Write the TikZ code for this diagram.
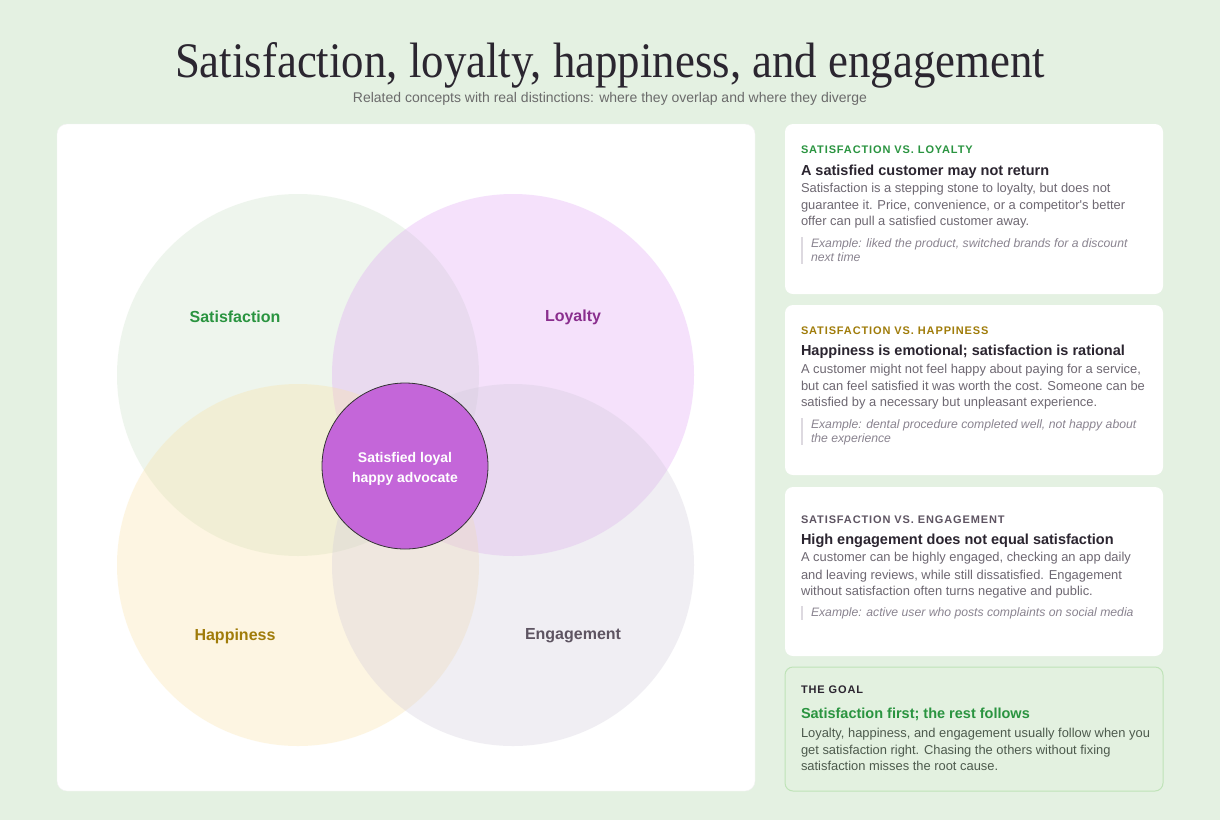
\documentclass[tikz,border=0pt]{standalone}
\usepackage{fontspec}
\usepackage{graphicx}
\newfontfamily\sans{Liberation Sans}
\newfontfamily\serifttl{Liberation Serif}
\definecolor{bgc}{HTML}{E4F1E2}
\definecolor{titlec}{HTML}{2B2630}
\definecolor{subc}{HTML}{6B6B6B}
\definecolor{satc}{HTML}{CAE1C6}
\definecolor{loyc}{HTML}{DE9EF5}
\definecolor{hapc}{HTML}{FBE1A0}
\definecolor{engc}{HTML}{CFC9D9}
\definecolor{corec}{HTML}{C466D9}
\definecolor{greenc}{HTML}{2A9440}
\definecolor{purplec}{HTML}{8A2E8E}
\definecolor{goldc}{HTML}{A07C0A}
\definecolor{grayc}{HTML}{5E5462}
\definecolor{darkc}{HTML}{2B2530}
\definecolor{bodyc}{HTML}{6E6872}
\definecolor{exc}{HTML}{8A8490}
\definecolor{barc}{HTML}{DDD9E0}
\definecolor{goalfill}{HTML}{E3F1E0}
\definecolor{goalline}{HTML}{BFE3B8}
\definecolor{goalbody}{HTML}{4D5A4D}
\tikzset{
  card/.style={rounded corners=8pt, fill=white, minimum width=378pt, anchor=north west},
  lbl/.style={anchor=base west, font=\sans\bfseries\fontsize{11}{13}\selectfont\addfontfeatures{LetterSpace=8}},
  ttl/.style={anchor=base west, text=darkc, font=\sans\bfseries\fontsize{14.5}{17}\selectfont},
  bdy/.style={anchor=base west, text=bodyc, font=\sans\fontsize{12.9}{15}\selectfont},
  exm/.style={anchor=base west, text=exc, font=\sans\itshape\fontsize{12.2}{14}\selectfont},
  vlabel/.style={font=\sans\bfseries\fontsize{16}{19}\selectfont},
  exbar/.style={draw=barc, line width=1.5pt}
}
\begin{document}
\begin{tikzpicture}[x=1pt,y=-1pt, every node/.style={inner sep=0pt, outer sep=0pt}]
\useasboundingbox (0,0) rectangle (1220,820);
\fill[bgc] (0,0) rectangle (1220,820);
% title
\node[anchor=base, text=titlec, font=\serifttl\fontsize{48}{50}\selectfont] (title) at (610,77) {\resizebox{870pt}{35pt}{Satisfaction, loyalty, happiness, and engagement}};
\node[anchor=base, text=subc, font=\sans\fontsize{14}{16}\selectfont] (subtitle) at (610,102) {Related concepts with real distinctions: where they overlap and where they diverge};
% venn panel
\node[rounded corners=10pt, fill=white, draw=white!90!gray, line width=0.4pt, minimum width=698pt, minimum height=667pt, anchor=north west] (panel) at (57,124) {};
\fill[satc, fill opacity=0.3] (298,375) circle[radius=181pt];
\fill[loyc, fill opacity=0.3] (513,375) circle[radius=181pt];
\fill[hapc, fill opacity=0.3] (298,565) circle[radius=181pt];
\fill[engc, fill opacity=0.3] (513,565) circle[radius=181pt];
\node[vlabel, text=greenc] (lsat) at (235,317) {Satisfaction};
\node[vlabel, text=purplec] (lloy) at (573,317) {Loyalty};
\node[vlabel, text=goldc] (lhap) at (235,636) {Happiness};
\node[vlabel, text=grayc] (leng) at (573,636) {Engagement};
\node[circle, fill=corec, draw=black!80, line width=0.8pt, minimum size=166pt] (core) at (405,466) {};
\node[align=center, text=white, font=\sans\bfseries\fontsize{14}{20}\selectfont] (coretext) at (405,469) {Satisfied loyal\\happy advocate};
% cards
\node[card, minimum height=170pt] (card1) at (785,124) {};
\node[card, minimum height=170pt] (card2) at (785,305) {};
\node[card, minimum height=169pt] (card3) at (785,487) {};
\node[card, minimum height=124pt, fill=goalfill, draw=goalline, line width=1pt] (card4) at (785,667) {};
% card 1
\node[lbl, text=greenc] (c1l) at (801,153) {SATISFACTION VS. LOYALTY};
\node[ttl] (c1t) at (801,175) {A satisfied customer may not return};
\node[bdy] (c1b1) at (801,192) {Satisfaction is a stepping stone to loyalty, but does not};
\node[bdy] (c1b2) at (801,209) {guarantee it. Price, convenience, or a competitor's better};
\node[bdy] (c1b3) at (801,225) {offer can pull a satisfied customer away.};
\coordinate (c1a) at (802,237); \coordinate (c1z) at (802,264);
\draw[exbar] (c1a) -- (c1z);
\node[exm] (c1e1) at (811,247) {Example: liked the product, switched brands for a discount};
\node[exm] (c1e2) at (811,261) {next time};
% card 2
\node[lbl, text=goldc] (c2l) at (801,334) {SATISFACTION VS. HAPPINESS};
\node[ttl] (c2t) at (801,355) {Happiness is emotional; satisfaction is rational};
\node[bdy] (c2b1) at (801,373) {A customer might not feel happy about paying for a service,};
\node[bdy] (c2b2) at (801,390) {but can feel satisfied it was worth the cost. Someone can be};
\node[bdy] (c2b3) at (801,406) {satisfied by a necessary but unpleasant experience.};
\coordinate (c2a) at (802,418); \coordinate (c2z) at (802,445);
\draw[exbar] (c2a) -- (c2z);
\node[exm] (c2e1) at (811,428) {Example: dental procedure completed well, not happy about};
\node[exm] (c2e2) at (811,442) {the experience};
% card 3
\node[lbl, text=grayc] (c3l) at (801,523) {SATISFACTION VS. ENGAGEMENT};
\node[ttl] (c3t) at (801,544) {High engagement does not equal satisfaction};
\node[bdy] (c3b1) at (801,561) {A customer can be highly engaged, checking an app daily};
\node[bdy] (c3b2) at (801,579) {and leaving reviews, while still dissatisfied. Engagement};
\node[bdy] (c3b3) at (801,595) {without satisfaction often turns negative and public.};
\coordinate (c3a) at (802,606); \coordinate (c3z) at (802,620);
\draw[exbar] (c3a) -- (c3z);
\node[exm] (c3e1) at (811,616) {Example: active user who posts complaints on social media};
% card 4
\node[lbl, text=darkc] (c4l) at (801,693) {THE GOAL};
\node[ttl, text=greenc] (c4t) at (801,718) {Satisfaction first; the rest follows};
\node[bdy, text=goalbody] (c4b1) at (801,737) {Loyalty, happiness, and engagement usually follow when you};
\node[bdy, text=goalbody] (c4b2) at (801,754) {get satisfaction right. Chasing the others without fixing};
\node[bdy, text=goalbody] (c4b3) at (801,770) {satisfaction misses the root cause.};
\end{tikzpicture}
\end{document}
